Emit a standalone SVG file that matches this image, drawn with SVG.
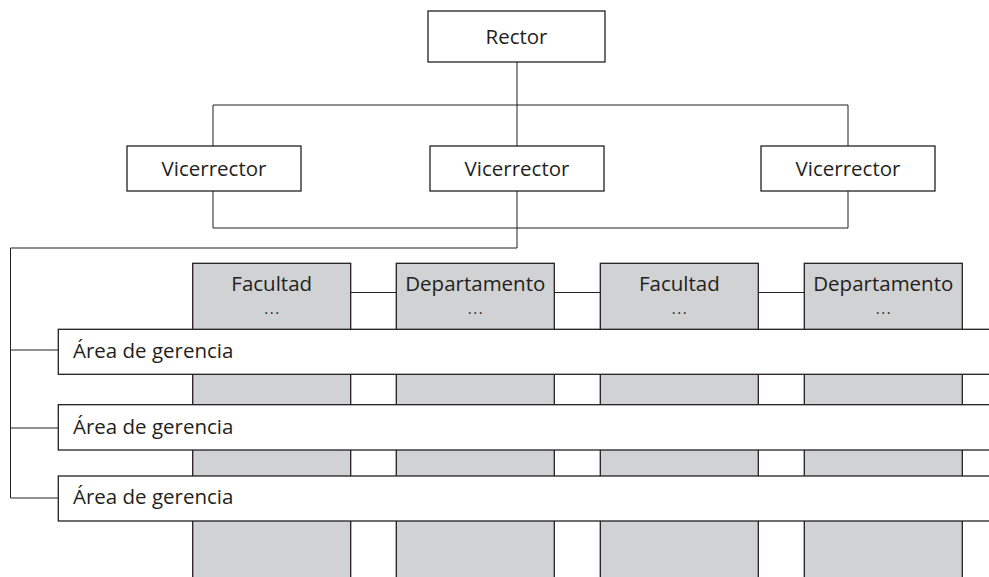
<svg xmlns="http://www.w3.org/2000/svg" width="989" height="577" viewBox="0 0 989 577">
<style>
.box{fill:#fff;stroke:#231f20;stroke-width:1.3}
.col{fill:#d1d2d4;stroke:#231f20;stroke-width:1.3}
.bar{fill:#fff;stroke:#231f20;stroke-width:1.3}
.ln{fill:none;stroke:#231f20;stroke-width:1}
text{font-family:"Open Sans","Noto Sans",sans-serif;font-size:20.5px;fill:#231f20}
.c{text-anchor:middle}
.d{font-size:15px;letter-spacing:1.5px}
</style>
<rect width="989" height="577" fill="#fff"/>
<g id="connectors">
<path class="ln" d="M517 62V146M213 146V105H848V146M213 191V228H848V191M517 191V248H10.5V498H58M10.5 350H58M10.5 428H58M350.7 292.5H396.3M554.3 292.5H600.3M758.3 292.5H804.3"/>
</g>
<g id="rector"><rect class="box" x="428" y="11" width="177" height="51"/><text class="c" x="516.5" y="44">Rector</text></g>
<g id="vicerrector1"><rect class="box" x="127" y="146" width="174" height="45"/><text class="c" x="214" y="176">Vicerrector</text></g>
<g id="vicerrector2"><rect class="box" x="430" y="146" width="174" height="45"/><text class="c" x="517" y="176">Vicerrector</text></g>
<g id="vicerrector3"><rect class="box" x="761" y="146" width="174" height="45"/><text class="c" x="848" y="176">Vicerrector</text></g>
<g id="facultad1"><rect class="col" x="192.7" y="263.3" width="158" height="330"/><text class="c" x="271.7" y="291">Facultad</text><text class="c d" x="272.5" y="314">...</text></g>
<g id="departamento1"><rect class="col" x="396.3" y="263.3" width="158" height="330"/><text class="c" x="475.3" y="291">Departamento</text><text class="c d" x="476" y="314">...</text></g>
<g id="facultad2"><rect class="col" x="600.3" y="263.3" width="158" height="330"/><text class="c" x="679.3" y="291">Facultad</text><text class="c d" x="680" y="314">...</text></g>
<g id="departamento2"><rect class="col" x="804.3" y="263.3" width="158" height="330"/><text class="c" x="883.3" y="291">Departamento</text><text class="c d" x="884" y="314">...</text></g>
<g id="area1"><rect class="bar" x="58.3" y="329.3" width="940" height="45"/><text x="73" y="358">Área de gerencia</text></g>
<g id="area2"><rect class="bar" x="58.3" y="404.7" width="940" height="45.3"/><text x="73" y="434">Área de gerencia</text></g>
<g id="area3"><rect class="bar" x="58.3" y="476" width="940" height="45"/><text x="73" y="504">Área de gerencia</text></g>
</svg>
